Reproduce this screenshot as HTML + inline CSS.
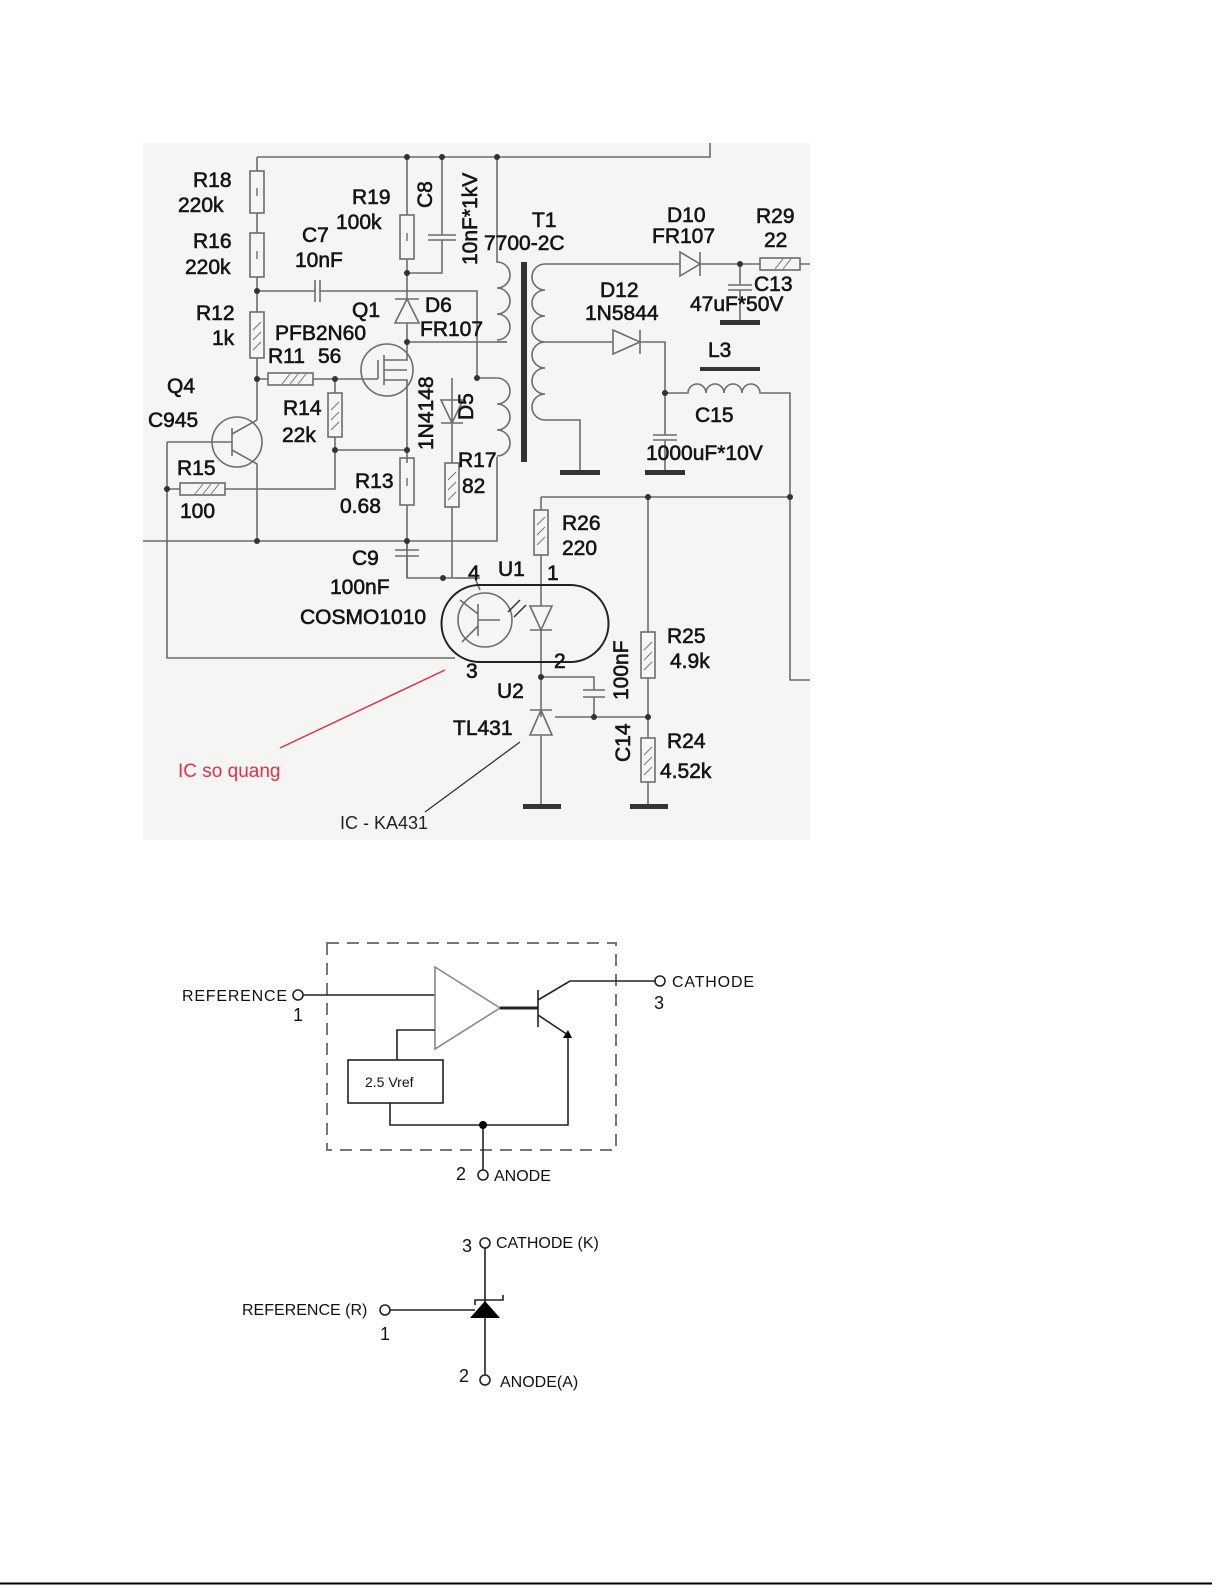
<!DOCTYPE html>
<html><head><meta charset="utf-8"><style>
html,body{margin:0;padding:0;background:#fff;}
svg{display:block;}
.w{stroke:#6d6d6d;stroke-width:1.6;fill:none;}
.k{stroke:#222;stroke-width:1.6;fill:none;}
.t{font-family:"Liberation Sans",sans-serif;font-size:21px;fill:#151515;stroke:#151515;stroke-width:0.6;}
.s{font-family:"Liberation Sans",sans-serif;font-size:16px;fill:#111;}
</style></head><body>
<svg width="1225" height="1585" viewBox="0 0 1225 1585" xmlns="http://www.w3.org/2000/svg">
<rect x="143" y="143" width="667" height="697" fill="#f5f5f3"/>
<g class="w">
<path d="M257,157 H710 V143"/>
<path d="M257,157 V171 M257,213 V233 M257,277 V312 M257,358 V420"/>
<rect x="250" y="171" width="14" height="42"/><rect x="250" y="233" width="14" height="44"/>
<rect x="250" y="312" width="14" height="46"/>
<path d="M257,291 H315 M320,291 H477 V378 M477,378 H497"/>
<path d="M315,280 V302 M320,280 V302"/>
<path d="M257,379 H268 M313,379 H378"/><rect x="268" y="373" width="45" height="12"/>
<path d="M335,379 V393 M335,437 V450 H407"/><rect x="328" y="393" width="14" height="44"/>
<circle cx="237" cy="442" r="25"/>
<path d="M167,442 H232 M232,428 V456 M232,434 L257,420 M232,450 L257,464 V541"/>
<path d="M167,442 V658 H455 M167,489 H180 M225,489 H335 V450"/><rect x="180" y="483" width="45" height="12"/>
<circle cx="387" cy="370" r="26"/>
<path d="M378,379 V360 M384,355 V385 M384,370 H407 M384,360 H407 V342 M384,380 H407 V450"/>
<path d="M407,157 V215 M407,259 V299 M407,323 V342 H507"/><rect x="400" y="215" width="14" height="44"/>
<path d="M395,299 H419 M407,299 L395,323 H419 Z"/>
<path d="M407,273 H442 V240 M442,235 V157 M428,235 H456 M428,240 H456"/>
<path d="M407,450 V463 M407,505 V578"/><rect x="400" y="458" width="14" height="47"/>
<path d="M407,541 V550 M395,550 H419 M395,556 H419 M407,556 V578 H480"/>
<path d="M452,378 V463 M452,507 V578 M441,400 H463 L452,423 Z M441,423 H463"/><rect x="445" y="463" width="14" height="44"/>
<path d="M143,541 H497 V457"/>
<path d="M497,157 V262 a13,13 0 0 1 0,26 a13,13 0 0 1 0,26 a13,13 0 0 1 0,26"/>
<path d="M497,342 H507 M497,378 a13,13 0 0 1 0,26 a13,13 0 0 1 0,26 a13,13 0 0 1 0,26"/>
<path d="M558,264 H545 a13,13 0 0 0 0,26 a13,13 0 0 0 0,26 a13,13 0 0 0 0,26 a13,13 0 0 0 0,26 a13,13 0 0 0 0,26 a13,13 0 0 0 0,26 H580 V472"/>
<path d="M545,342 H613 M640,342 H665 V435 M665,440 V472 M653,435 H677 M653,440 H677"/>
<path d="M613,330 V354 L640,342 Z M640,330 V354"/>
<path d="M558,264 H680 M700,264 H760 M800,264 H810 M680,252 V276 L700,264 Z M700,252 V276"/><rect x="760" y="258" width="40" height="12"/>
<path d="M740,264 V285 M740,290 V322 M728,285 H752 M728,290 H752"/>
<path d="M665,393 H688 a9,9 0 0 1 18,0 a9,9 0 0 1 18,0 a9,9 0 0 1 18,0 a9,9 0 0 1 18,0 H790 V680 H810"/>
<path d="M541,497 H790 M541,497 V510 M541,555 V606 M541,630 V717 M541,735 V806"/><rect x="534" y="510" width="14" height="45"/>
<path d="M530,606 H552 L541,630 Z M530,630 H552"/>
<path d="M541,677 H594 V690 M594,697 V717 M583,690 H605 M583,697 H605 M555,717 H648"/>
<path d="M648,497 V632 M648,678 V738 M648,782 V806"/><rect x="641" y="632" width="14" height="46"/><rect x="641" y="738" width="14" height="44"/>
<path d="M530,735 H552 L541,710 Z M530,710 H552"/>
<circle cx="485" cy="620" r="27"/>
<path d="M478,604 V636 M478,614 L460,600 M478,626 L462,642 M478,620 H500 M455,578 H475 M475,578 L480,590"/>
</g>
<path d="M480,585 H570 A37,37 0 0 1 570,662 H480 A38,38 0 0 1 480,585 Z" fill="none" stroke="#222" stroke-width="2"/>
<path d="M508,612 L520,600 M514,617 L526,605" stroke="#333" stroke-width="1.5"/>
<g stroke="#777" stroke-width="1">
<path d="M253,330 L261,322 M253,340 L261,332 M253,350 L261,342 M331,410 L339,402 M331,420 L339,412 M331,430 L339,422 M448,480 L456,472 M448,490 L456,482 M448,500 L456,492 M537,525 L545,517 M537,535 L545,527 M537,545 L545,537 M644,650 L652,642 M644,660 L652,652 M644,670 L652,662 M644,755 L652,747 M644,765 L652,757 M644,775 L652,767 M282,384 L290,374 M290,384 L298,374 M298,384 L306,374 M195,494 L203,484 M203,494 L211,484 M211,494 L219,484 M775,269 L783,259 M783,269 L791,259"/>
<path d="M257,188 V196 M257,251 V259 M407,233 V241 M407,478 V486" stroke-width="1.5"/>
</g>
<g fill="#333">
<circle cx="407" cy="157" r="3"/><circle cx="442" cy="157" r="3"/><circle cx="497" cy="157" r="3"/>
<circle cx="257" cy="291" r="3"/><circle cx="257" cy="379" r="3"/><circle cx="335" cy="379" r="3"/>
<circle cx="407" cy="273" r="3"/><circle cx="407" cy="342" r="3"/><circle cx="477" cy="378" r="3"/>
<circle cx="335" cy="450" r="3"/><circle cx="407" cy="450" r="3"/><circle cx="167" cy="489" r="3"/>
<circle cx="257" cy="541" r="3"/><circle cx="407" cy="541" r="3"/><circle cx="443" cy="578" r="3"/>
<circle cx="740" cy="264" r="3"/><circle cx="665" cy="393" r="3"/><circle cx="648" cy="497" r="3"/><circle cx="790" cy="497" r="3"/>
<circle cx="541" cy="677" r="3"/><circle cx="594" cy="717" r="3"/><circle cx="648" cy="717" r="3"/>
<rect x="521" y="262" width="6" height="200"/>
<rect x="720" y="320" width="40" height="5"/><rect x="560" y="470" width="40" height="5"/><rect x="645" y="470" width="40" height="5"/>
<rect x="700" y="367" width="60" height="4"/><rect x="523" y="804" width="38" height="5"/><rect x="630" y="804" width="38" height="5"/>
</g>
<g class="t">
<text x="193" y="187">R18</text><text x="178" y="212">220k</text>
<text x="193" y="248">R16</text><text x="185" y="274">220k</text>
<text x="196" y="320">R12</text><text x="212" y="345">1k</text>
<text x="167" y="393">Q4</text><text x="148" y="427">C945</text>
<text x="177" y="475">R15</text><text x="180" y="518">100</text>
<text x="352" y="204">R19</text><text x="336" y="229">100k</text>
<text x="302" y="242">C7</text><text x="295" y="267">10nF</text>
<text x="352" y="317">Q1</text><text x="275" y="340">PFB2N60</text>
<text x="268" y="363">R11</text><text x="318" y="363">56</text>
<text x="283" y="415">R14</text><text x="282" y="442">22k</text>
<text x="425" y="312">D6</text><text x="420" y="336">FR107</text>
<text x="355" y="488">R13</text><text x="340" y="513">0.68</text>
<text x="458" y="467">R17</text><text x="462" y="493">82</text>
<text x="352" y="565">C9</text><text x="330" y="594">100nF</text>
<text x="300" y="624">COSMO1010</text>
<text x="468" y="580">4</text><text x="498" y="576">U1</text><text x="547" y="580">1</text>
<text x="466" y="678">3</text><text x="554" y="668">2</text>
<text x="497" y="698">U2</text><text x="453" y="735">TL431</text>
<text x="562" y="530">R26</text><text x="562" y="555">220</text>
<text x="667" y="643">R25</text><text x="670" y="668">4.9k</text>
<text x="667" y="748">R24</text><text x="660" y="778">4.52k</text>
<text x="532" y="227">T1</text><text x="484" y="250">7700-2C</text>
<text x="667" y="222">D10</text><text x="652" y="243">FR107</text>
<text x="756" y="223">R29</text><text x="764" y="247">22</text>
<text x="754" y="291">C13</text><text x="690" y="311">47uF*50V</text>
<text x="600" y="297">D12</text><text x="585" y="320">1N5844</text>
<text x="708" y="357">L3</text><text x="695" y="422">C15</text><text x="646" y="460">1000uF*10V</text>
<text transform="translate(432,208) rotate(-90)">C8</text>
<text transform="translate(477,265) rotate(-90)">10nF*1kV</text>
<text transform="translate(433,450) rotate(-90)">1N4148</text>
<text transform="translate(473,420) rotate(-90)">D5</text>
<text transform="translate(628,700) rotate(-90)">100nF</text>
<text transform="translate(630,762) rotate(-90)">C14</text>
</g>
<path d="M445,670 L280,748" stroke="#e0304a" stroke-width="1.5"/>
<text x="178" y="777" font-family="Liberation Sans,sans-serif" font-size="19" fill="#e0304a">IC so quang</text>
<path d="M520,742 L425,812" stroke="#333" stroke-width="1.3"/>
<text x="340" y="829" font-family="Liberation Sans,sans-serif" font-size="18" fill="#222">IC - KA431</text>

<rect x="327" y="943" width="289" height="207" fill="none" stroke="#777" stroke-width="2" stroke-dasharray="12,8"/>
<g class="k">
<circle cx="298" cy="995" r="5"/><path d="M303,995 H435"/>
<path d="M435,967 L500,1008 L435,1049 Z" stroke="#888"/>
<path d="M435,1030 H397 V1060"/>
<rect x="348" y="1060" width="95" height="43"/>
<path d="M390,1103 V1125 H568 V1035 M483,1125 V1170"/>
<path d="M500,1008 H538" stroke-width="3"/>
<path d="M538,990 V1027 M538,1000 L570,981 H655 M538,1015 L568,1035"/>
<circle cx="660" cy="981" r="5"/><circle cx="483" cy="1175" r="5"/>
</g>
<path d="M563,1038 L568,1030 L572,1038 Z" fill="#000"/>
<circle cx="483" cy="1125" r="4" fill="#000"/>
<g class="s">
<text x="182" y="1001" textLength="105">REFERENCE</text><text x="293" y="1021" font-size="18">1</text>
<text x="672" y="987" textLength="82">CATHODE</text><text x="654" y="1009" font-size="18">3</text>
<text x="365" y="1087" font-size="14">2.5 Vref</text>
<text x="456" y="1180" font-size="18">2</text><text x="494" y="1181">ANODE</text>
<text x="462" y="1252" font-size="18">3</text><text x="496" y="1248">CATHODE (K)</text>
<text x="242" y="1315">REFERENCE (R)</text><text x="380" y="1340" font-size="18">1</text>
<text x="459" y="1382" font-size="18">2</text><text x="500" y="1387">ANODE(A)</text>
</g>
<g class="k">
<circle cx="485" cy="1243" r="5"/><circle cx="385" cy="1310" r="5"/><circle cx="485" cy="1380" r="5"/>
<path d="M485,1248 V1375 M390,1310 H475 M475,1305 V1300 H503 V1295"/>
</g>
<path d="M485,1301 L470,1318 H500 Z" fill="#000"/>
<path d="M0,1583.5 H1212" stroke="#000" stroke-width="2"/>
</svg>
</body></html>
